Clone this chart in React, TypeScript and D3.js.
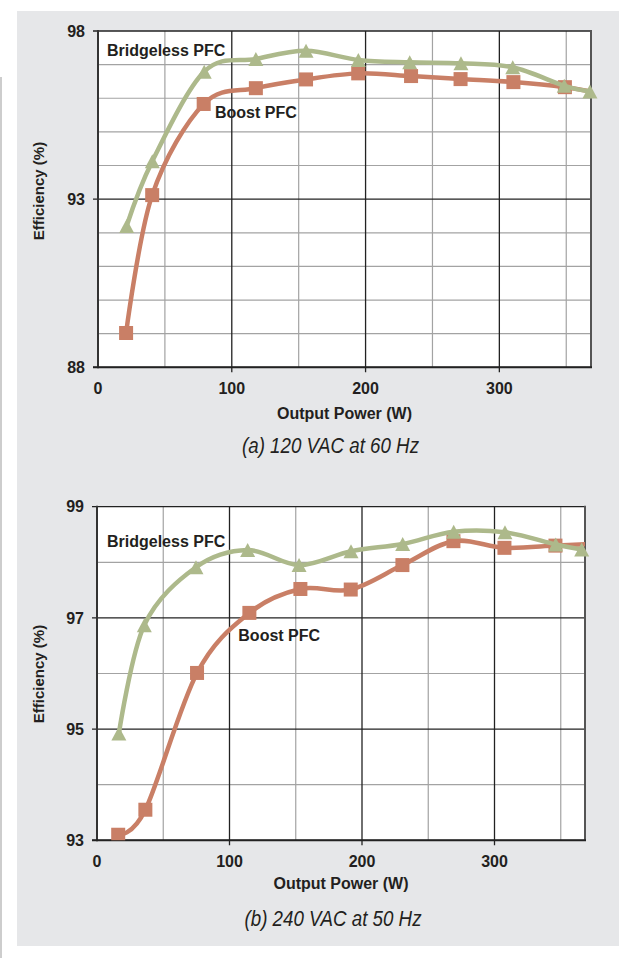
import React from "react";
import * as d3 from "d3";

// ---------- data ----------
const TICKS_X = [0, 100, 200, 300];
const TICKS_Y_A = [88, 93, 98];
const TICKS_Y_B = [93, 95, 97, 99];

// (a) 120 VAC at 60 Hz
const BOOST_A_W = [21, 40.5, 79, 118, 155.5, 194.5, 234, 271, 310.5, 349, 375];
const BOOST_A_EFF = [89.02, 93.12, 95.83, 96.3, 96.56, 96.74, 96.66, 96.57, 96.48, 96.33, 96.15];
const BRIDGELESS_A_W = [21.4, 40.6, 79.4, 118, 155.5, 194.6, 233, 271.3, 310, 348.5, 367.7];
const BRIDGELESS_A_EFF = [92.2, 94.13, 96.79, 97.17, 97.41, 97.14, 97.07, 97.04, 96.92, 96.37, 96.2];

// (b) 240 VAC at 50 Hz
const BOOST_B_W = [16, 36.5, 75.5, 115, 153.5, 191.5, 230.5, 269, 307.5, 346, 375];
const BOOST_B_EFF = [93.1, 93.55, 96.01, 97.09, 97.52, 97.51, 97.95, 98.38, 98.26, 98.3, 98.33];
const BRIDGELESS_B_W = [16.5, 35.7, 74.7, 113.7, 152.5, 191.7, 230.7, 269.2, 307.9, 346.2, 365.8];
const BRIDGELESS_B_EFF = [94.92, 96.87, 97.91, 98.22, 97.95, 98.2, 98.33, 98.55, 98.54, 98.32, 98.23];

const SERIES_NAMES = ["Bridgeless PFC", "Boost PFC"];
const X_TITLE = "Output Power (W)";
const Y_TITLE = "Efficiency (%)";
const CAPTIONS = ["(a) 120 VAC at 60 Hz", "(b) 240 VAC at 50 Hz"];

// ---------- style ----------
const BOOST_COLOR = "#c97f66";
const BRIDGE_COLOR = "#adb98b";
const PANEL = "#e6e7e9";
const FONT = "'Liberation Sans', Arial, Helvetica, sans-serif";
const NARROW = "'Liberation Sans Narrow', 'Arial Narrow', 'Liberation Sans', sans-serif";
const INK = "#231f20";

type ChartProps = {
  id: string;
  left: number; right: number; top: number; bottom: number;
  xMax: number; yDomain: [number, number]; majorY: number[];
  boostW: number[]; boostE: number[]; bridgeW: number[]; bridgeE: number[];
  bridgeLabel: [number, number]; boostLabel: [number, number];
  yTitleY: number; xTickY: number; xTitleY: number; captionX: number; captionY: number;
  caption: string;
};

function Chart(p: ChartProps) {
  const x = d3.scaleLinear().domain([0, p.xMax]).range([p.left, p.right]);
  const y = d3.scaleLinear().domain(p.yDomain).range([p.bottom, p.top]);
  const minorY = d3.range(p.yDomain[0], p.yDomain[1] + 0.001, 1).filter((v) => !p.majorY.includes(v));
  const minorX = d3.range(50, p.xMax, 100);
  const majorX = TICKS_X.filter((v) => v > 0);
  const line = d3
    .line<[number, number]>()
    .x((d) => x(d[0]))
    .y((d) => y(d[1]))
    .curve(d3.curveCardinal.tension(0));
  const boost = p.boostW.map((w, i) => [w, p.boostE[i]] as [number, number]);
  const bridge = p.bridgeW.map((w, i) => [w, p.bridgeE[i]] as [number, number]);
  const sq = 14;
  const triW = 15, triH = 14;
  const tri = (cx: number, cy: number) =>
    `M${cx},${cy - triH / 2}L${cx + triW / 2},${cy + triH / 2}L${cx - triW / 2},${cy + triH / 2}Z`;
  const clipId = `clip-${p.id}`;
  const midX = (p.left + p.right) / 2;
  return (
    <g>
      <defs>
        <clipPath id={clipId}>
          <rect x={p.left} y={p.top} width={p.right - p.left} height={p.bottom - p.top} />
        </clipPath>
      </defs>
      <rect x={p.left} y={p.top} width={p.right - p.left} height={p.bottom - p.top} fill="#fff" />
      {minorY.map((v) => (
        <line key={"my" + v} x1={p.left} x2={p.right} y1={y(v)} y2={y(v)} stroke="#a3a3a3" strokeWidth={1.2} />
      ))}
      {minorX.map((v) => (
        <line key={"mx" + v} x1={x(v)} x2={x(v)} y1={p.top} y2={p.bottom} stroke="#a3a3a3" strokeWidth={1.2} />
      ))}
      {p.majorY.map((v) => (
        <line key={"My" + v} x1={p.left - 5} x2={p.right} y1={y(v)} y2={y(v)} stroke="#222" strokeWidth={1.3} />
      ))}
      {majorX.map((v) => (
        <line key={"Mx" + v} x1={x(v)} x2={x(v)} y1={p.top} y2={p.bottom + 5} stroke="#222" strokeWidth={1.3} />
      ))}
      <line x1={p.right} x2={p.right} y1={p.top - 1} y2={p.bottom} stroke="#555" strokeWidth={2} />
      <line x1={p.left} x2={p.left} y1={p.top - 1} y2={p.bottom + 1} stroke="#333" strokeWidth={2} />
      <line x1={p.left - 5} x2={p.right + 1} y1={p.bottom} y2={p.bottom} stroke="#222" strokeWidth={2} />

      {/* series labels */}
      <text x={p.bridgeLabel[0]} y={p.bridgeLabel[1]} dy="0.36em" fontFamily={FONT} fontWeight="bold" fontSize={16} fill={INK}>
        {SERIES_NAMES[0]}
      </text>
      <text x={p.boostLabel[0]} y={p.boostLabel[1]} dy="0.36em" fontFamily={FONT} fontWeight="bold" fontSize={16} fill={INK}>
        {SERIES_NAMES[1]}
      </text>

      <g clipPath={`url(#${clipId})`}>
        <path d={line(boost) || ""} fill="none" stroke={BOOST_COLOR} strokeWidth={4.5} />
        {boost.map((d, i) => (
          <rect key={"s" + i} x={x(d[0]) - sq / 2} y={y(d[1]) - sq / 2} width={sq} height={sq} fill={BOOST_COLOR} />
        ))}
      </g>
      <path d={line(bridge) || ""} fill="none" stroke={BRIDGE_COLOR} strokeWidth={4.5} />
      {bridge.map((d, i) => (
        <path key={"t" + i} d={tri(x(d[0]), y(d[1]))} fill={BRIDGE_COLOR} />
      ))}

      {/* tick labels */}
      {p.majorY.map((v) => (
        <text key={"ly" + v} x={p.left - 13} y={y(v)} dy="0.36em" textAnchor="end" fontFamily={FONT} fontWeight="bold" fontSize={16} fill={INK}>
          {v}
        </text>
      ))}
      {TICKS_X.map((v) => (
        <text key={"lx" + v} x={x(v)} y={p.xTickY} dy="0.36em" textAnchor="middle" fontFamily={FONT} fontWeight="bold" fontSize={16} fill={INK}>
          {v}
        </text>
      ))}
      <text x={midX} y={p.xTitleY} dy="0.36em" textAnchor="middle" fontFamily={FONT} fontWeight="bold" fontSize={16} fill={INK}>
        {X_TITLE}
      </text>
      <text
        transform={`translate(39,${p.yTitleY}) rotate(-90)`}
        dy="0.36em"
        textAnchor="middle"
        fontFamily={FONT}
        fontWeight="bold"
        fontSize={15}
        fill={INK}
      >
        {Y_TITLE}
      </text>
      <text
        x={p.captionX}
        y={p.captionY}
        dy="0.36em"
        textAnchor="middle"
        fontFamily={NARROW}
        fontStyle="italic"
        fontSize={22}
        textLength={177}
        lengthAdjust="spacingAndGlyphs"
        fill={INK}
      >
        {p.caption}
      </text>
    </g>
  );
}

export default function App() {
  return (
    <svg
      width={619}
      height={958}
      style={{ position: "absolute", left: 0, top: 0, background: "#fff" }}
    >
      <rect x={0} y={0} width={619} height={958} fill="#fff" />
      <line x1={1} x2={1} y1={77} y2={958} stroke="#bdbdbd" strokeWidth={1.5} />
      <rect x={17} y={11} width={602} height={935} fill={PANEL} />
      <Chart
        id="a"
        left={98}
        right={591}
        top={31}
        bottom={367.3}
        xMax={368.5}
        yDomain={[88, 98]}
        majorY={TICKS_Y_A}
        boostW={BOOST_A_W}
        boostE={BOOST_A_EFF}
        bridgeW={BRIDGELESS_A_W}
        bridgeE={BRIDGELESS_A_EFF}
        bridgeLabel={[107, 50]}
        boostLabel={[215, 112]}
        yTitleY={191}
        xTickY={388}
        xTitleY={413}
        captionX={330.5}
        captionY={445}
        caption={CAPTIONS[0]}
      />
      <Chart
        id="b"
        left={97}
        right={585}
        top={506.7}
        bottom={840.3}
        xMax={368.3}
        yDomain={[93, 99]}
        majorY={TICKS_Y_B}
        boostW={BOOST_B_W}
        boostE={BOOST_B_EFF}
        bridgeW={BRIDGELESS_B_W}
        bridgeE={BRIDGELESS_B_EFF}
        bridgeLabel={[107, 541.7]}
        boostLabel={[238.3, 635.3]}
        yTitleY={674}
        xTickY={861}
        xTitleY={883}
        captionX={333}
        captionY={918}
        caption={CAPTIONS[1]}
      />
    </svg>
  );
}
